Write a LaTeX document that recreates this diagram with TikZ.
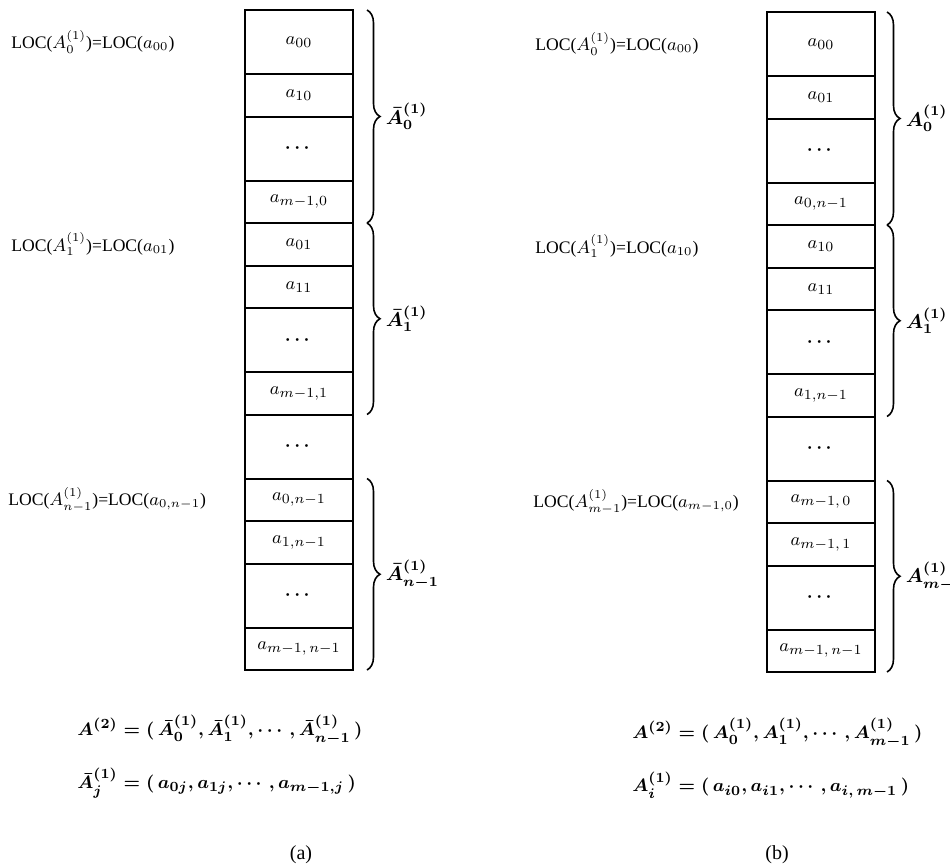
\documentclass[tikz,border=0pt]{standalone}
\usepackage{amsmath,amssymb}
\usepackage{fontspec}
\setmainfont{Liberation Serif}
\usetikzlibrary{positioning,decorations.pathreplacing}

\begin{document}
\begin{tikzpicture}[x=0.5pt, y=-0.5pt,
  cell/.style={draw, line width=1pt, minimum width=54pt, minimum height=21.25pt, inner sep=0pt, outer sep=0pt, font=\fontsize{9.5}{11}\selectfont},
  tall/.style={cell, minimum height=32pt},
  dotcell/.style={tall, font=\fontsize{9.5}{11}\selectfont\boldmath},
  loc/.style={anchor=west, inner sep=0pt, font=\fontsize{8.8}{11}\selectfont},
  brace/.style={decorate, decoration={brace, amplitude=6.5pt}, line width=0.8pt},
  blabel/.style={midway, right=9pt, inner sep=0pt, font=\fontsize{10}{12}\selectfont\boldmath},
  formula/.style={anchor=west, inner sep=0pt, font=\fontsize{9.3}{11}\selectfont\boldmath},
]
  \useasboundingbox (0,0) rectangle (950,867);

  % (a) column by column
  \node[tall, anchor=north] (L00) at (299,10) {$a_{00}$};
  \node[cell, below=0pt of L00] (L10) {$a_{10}$};
  \node[dotcell, below=0pt of L10] (Ld1) {$\cdots$};
  \node[cell, below=0pt of Ld1] (Lm0) {$a_{m-1,0}$};
  \node[cell, below=0pt of Lm0] (L01) {$a_{01}$};
  \node[cell, below=0pt of L01] (L11) {$a_{11}$};
  \node[dotcell, below=0pt of L11] (Ld2) {$\cdots$};
  \node[cell, below=0pt of Ld2] (Lm1) {$a_{m-1,1}$};
  \node[dotcell, below=0pt of Lm1] (Ldd) {$\cdots$};
  \node[cell, below=0pt of Ldd] (L0n) {$a_{0,n-1}$};
  \node[cell, below=0pt of L0n] (L1n) {$a_{1,n-1}$};
  \node[dotcell, below=0pt of L1n] (Ld3) {$\cdots$};
  \node[cell, below=0pt of Ld3] (Lmn) {$a_{m-1,\,n-1}$};

  \node[loc] (locL0) at (11,0 |- L00) {LOC($A_0^{(1)}$)=LOC($a_{00}$)};
  \node[loc] (locL1) at (11,0 |- L01) {LOC($A_1^{(1)}$)=LOC($a_{01}$)};
  \node[loc] (locL2) at (8,0 |- L0n) {LOC($A_{n-1}^{(1)}$)=LOC($a_{0,n-1}$)};

  \draw[brace] ([xshift=7pt]L00.north east) -- ([xshift=7pt]Lm0.south east) node[blabel] (bL0) {$\bar{A}_0^{(1)}$};
  \draw[brace] ([xshift=7pt]L01.north east) -- ([xshift=7pt]Lm1.south east) node[blabel] (bL1) {$\bar{A}_1^{(1)}$};
  \draw[brace] ([xshift=7pt]L0n.north east) -- ([xshift=7pt]Lmn.south east) node[blabel] (bL2) {$\bar{A}_{n-1}^{(1)}$};

  \node[formula] (fa1) at (77,730) {$A^{(2)} = (\,\bar{A}_0^{(1)}, \bar{A}_1^{(1)}, \cdots, \bar{A}_{n-1}^{(1)}\,)$};
  \node[formula] (fa2) at (77,783) {$\bar{A}_j^{(1)} = (\,a_{0j}, a_{1j}, \cdots, a_{m-1,j}\,)$};
  \node[font=\fontsize{10}{12}\selectfont] (capa) at (301,855) {(a)};

  % (b) row by row
  \node[tall, anchor=north] (R00) at (821,12) {$a_{00}$};
  \node[cell, below=0pt of R00] (R01) {$a_{01}$};
  \node[dotcell, below=0pt of R01] (Rd1) {$\cdots$};
  \node[cell, below=0pt of Rd1] (R0n) {$a_{0,n-1}$};
  \node[cell, below=0pt of R0n] (R10) {$a_{10}$};
  \node[cell, below=0pt of R10] (R11) {$a_{11}$};
  \node[dotcell, below=0pt of R11] (Rd2) {$\cdots$};
  \node[cell, below=0pt of Rd2] (R1n) {$a_{1,n-1}$};
  \node[dotcell, below=0pt of R1n] (Rdd) {$\cdots$};
  \node[cell, below=0pt of Rdd] (Rm0) {$a_{m-1,\,0}$};
  \node[cell, below=0pt of Rm0] (Rm1) {$a_{m-1,\,1}$};
  \node[dotcell, below=0pt of Rm1] (Rd3) {$\cdots$};
  \node[cell, below=0pt of Rd3] (Rmn) {$a_{m-1,\,n-1}$};

  \node[loc] (locR0) at (535,0 |- R00) {LOC($A_0^{(1)}$)=LOC($a_{00}$)};
  \node[loc] (locR1) at (535,0 |- R10) {LOC($A_1^{(1)}$)=LOC($a_{10}$)};
  \node[loc] (locR2) at (533,0 |- Rm0) {LOC($A_{m-1}^{(1)}$)=LOC($a_{m-1,0}$)};

  \draw[brace] ([xshift=6pt]R00.north east) -- ([xshift=6pt]R0n.south east) node[blabel] (bR0) {$A_0^{(1)}$};
  \draw[brace] ([xshift=6pt]R10.north east) -- ([xshift=6pt]R1n.south east) node[blabel] (bR1) {$A_1^{(1)}$};
  \draw[brace] ([xshift=6pt]Rm0.north east) -- ([xshift=6pt]Rmn.south east) node[blabel] (bR2) {$A_{m-1}^{(1)}$};

  \node[formula] (fb1) at (632,733) {$A^{(2)} = (\,A_0^{(1)}, A_1^{(1)}, \cdots, A_{m-1}^{(1)}\,)$};
  \node[formula] (fb2) at (632,785) {$A_i^{(1)} = (\,a_{i0}, a_{i1}, \cdots, a_{i,\,m-1}\,)$};
  \node[font=\fontsize{10}{12}\selectfont] (capb) at (777,855) {(b)};
\end{tikzpicture}
\end{document}
